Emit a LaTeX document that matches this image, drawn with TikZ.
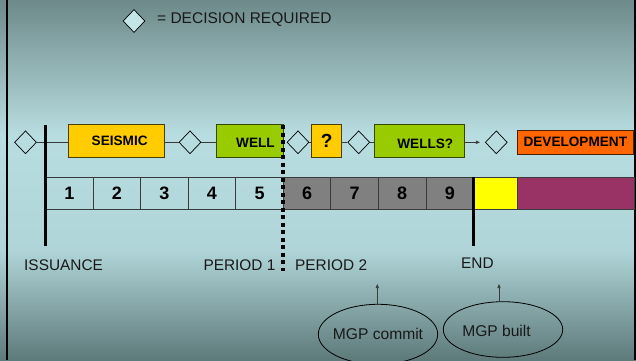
\documentclass[tikz,border=0pt]{standalone}
\usepackage{fontspec}
\setmainfont{Liberation Sans}
\usetikzlibrary{shapes.geometric,arrows.meta}
\definecolor{bgtop}{HTML}{6E8A8A}
\definecolor{bglight}{HTML}{B8DDE0}
\definecolor{bgmid}{HTML}{B0D5D8}
\definecolor{bgbot}{HTML}{5E7A7B}
\definecolor{declight}{HTML}{C4E5E8}
\definecolor{goldc}{HTML}{FFCC00}
\definecolor{greenc}{HTML}{99CC00}
\definecolor{orangec}{HTML}{FF6600}
\definecolor{yellowc}{HTML}{FFFF00}
\definecolor{purplec}{HTML}{993366}
\definecolor{grayc}{HTML}{808080}
\definecolor{linec}{HTML}{3A3A3A}
\tikzset{
  dec/.style={diamond, draw=black, line width=0.7pt, inner sep=0pt, minimum width=22pt, minimum height=23pt},
  boxtext/.style={font=\fontsize{13.6}{14}\selectfont\bfseries, text=black, inner sep=0pt},
  actbox/.style={rectangle, line width=0.8pt, minimum height=32.6pt, inner sep=0pt, font=\fontsize{13.6}{14}\selectfont\bfseries},
  goldbox/.style={actbox, fill=goldc, draw=black!70!goldc},
  greenbox/.style={actbox, fill=greenc, draw=black!65!greenc},
  conn/.style={draw=linec, line width=0.7pt},
  cell/.style={rectangle, draw=linec, line width=0.8pt, minimum width=47.56pt, minimum height=32pt, inner sep=0pt, font=\fontsize{18}{18}\selectfont\bfseries},
  lbl/.style={font=\fontsize{15.4}{16}\selectfont, inner sep=0pt, anchor=base west, text=black!90},
  thick bar/.style={line width=3.3pt, black},
  mgp/.style={ellipse, draw=black, line width=0.8pt, inner sep=0pt, minimum width=119.4pt},
  mgptext/.style={font=\fontsize{15.6}{16}\selectfont, inner sep=0pt, text=black!90},
  uparrow/.style={draw=linec, line width=0.7pt, -{Triangle[length=4pt,width=3.2pt]}}
}
\begin{document}
\begin{tikzpicture}[x=1pt,y=-1pt]
\useasboundingbox (0,0) rectangle (636,360);
% background gradient
\fill[top color=bgtop, bottom color=bglight] (0,0) rectangle (636,135);
\fill[top color=bglight, bottom color=bgmid] (0,134.5) rectangle (636,250);
\fill[top color=bgmid, bottom color=bgbot] (0,249.5) rectangle (636,360);
% side borders
\draw[line width=2.2pt, black] (7,0) -- (7,360);
\draw[line width=2.4pt, black] (634.8,0) -- (634.8,360);

% legend
\node[dec, fill=declight] (leg) at (134,21) {};
\node[font=\fontsize{15.5}{16}\selectfont, inner sep=0pt, anchor=west, text=black!90] (legtxt) at (157,19.5) {= DECISION REQUIRED};

% number row
\foreach \i in {1,...,5} {
  \node[cell] (c\i) at ({45.5+(\i-0.5)*47.56},193.5) {\i};
}
\foreach \i in {6,...,9} {
  \node[cell, fill=grayc] (c\i) at ({45.5+(\i-0.5)*47.56},193.5) {\i};
}
\node[rectangle, draw=linec, line width=0.8pt, fill=yellowc, minimum width=43.8pt, minimum height=32pt, inner sep=0pt] (yel) at (495.4,193.5) {};
\node[rectangle, draw=linec, line width=0.8pt, fill=purplec, minimum width=116.7pt, minimum height=32pt, inner sep=0pt] (pur) at (575.65,193.5) {};

% decision diamonds
\node[dec] (d1) at (25.5,142.3) {};
\node[dec] (d2) at (190,142.3) {};
\node[dec] (d3) at (298,142.3) {};
\node[dec] (d4) at (358.7,142.3) {};
\node[dec] (d5) at (496.3,142.3) {};

% activity boxes
\node[goldbox, minimum width=96pt, label={[boxtext, xshift=3.7pt, yshift=0.3pt]center:SEISMIC}] (seis) at (116,141) {};
\node[greenbox, minimum width=66.6pt, label={[boxtext, xshift=5.5pt, yshift=-2pt]center:WELL}] (well) at (250,141) {};
\node[goldbox, minimum width=30pt, font=\fontsize{19}{19}\selectfont\bfseries] (q) at (326.7,141) {?};
\node[greenbox, minimum width=90.7pt, label={[boxtext, xshift=6pt, yshift=-2.5pt]center:WELLS?}] (wells) at (419.3,141) {};
\node[actbox, fill=orangec, draw=black!70!orangec, minimum width=116pt, minimum height=24pt] (dev) at (575.3,142) {DEVELOPMENT};

% connectors
\draw[conn] (d1.east) -- (d1.east -| seis.west);
\draw[conn] (seis.east |- d2.west) -- (d2.west);
\draw[conn] (d2.east) -- (d2.east -| well.west);
\draw[conn] (d3.east) -- (d3.east -| q.west);
\draw[conn] (q.east |- d4.west) -- (d4.west);
\draw[conn] (d4.east) -- (d4.east -| wells.west);
\draw[conn, -{Triangle[length=4pt,width=3.2pt]}, shorten >=5pt] (wells.east |- d5.west) -- (d5.west);

% period markers
\coordinate (issT) at (45.5,125);
\coordinate (issB) at (45.5,246);
\draw[thick bar] (issT) -- (issB);
\coordinate (endT) at (473.7,177.3);
\coordinate (endB) at (473.7,246);
\draw[thick bar] (endT) -- (endB);
\coordinate (perT) at (283.3,125);
\coordinate (perB) at (283.3,271);
\draw[line width=4pt, black, dash pattern=on 4pt off 3.5pt] (perT) -- (perB);

% labels
\node[lbl] (iss) at (24,270) {ISSUANCE};
\node[lbl] (p1) at (203.3,270) {PERIOD 1};
\node[lbl] (p2) at (295,270) {PERIOD 2};
\node[lbl] (endl) at (461,268.3) {END};

% MGP ellipses
\node[mgp, minimum height=60pt, label={[mgptext]center:MGP commit}] (commit) at (378,334.3) {};
\node[mgp, minimum height=55.6pt, label={[mgptext, xshift=-6.5pt, yshift=-1.8pt]center:MGP built}] (built) at (503,329.5) {};
\coordinate (ctip) at (377.3,284);
\coordinate (btip) at (499,284);
\draw[uparrow] (ctip |- commit.north) -- (ctip);
\draw[uparrow] (btip |- built.north) -- (btip);
\end{tikzpicture}
\end{document}
